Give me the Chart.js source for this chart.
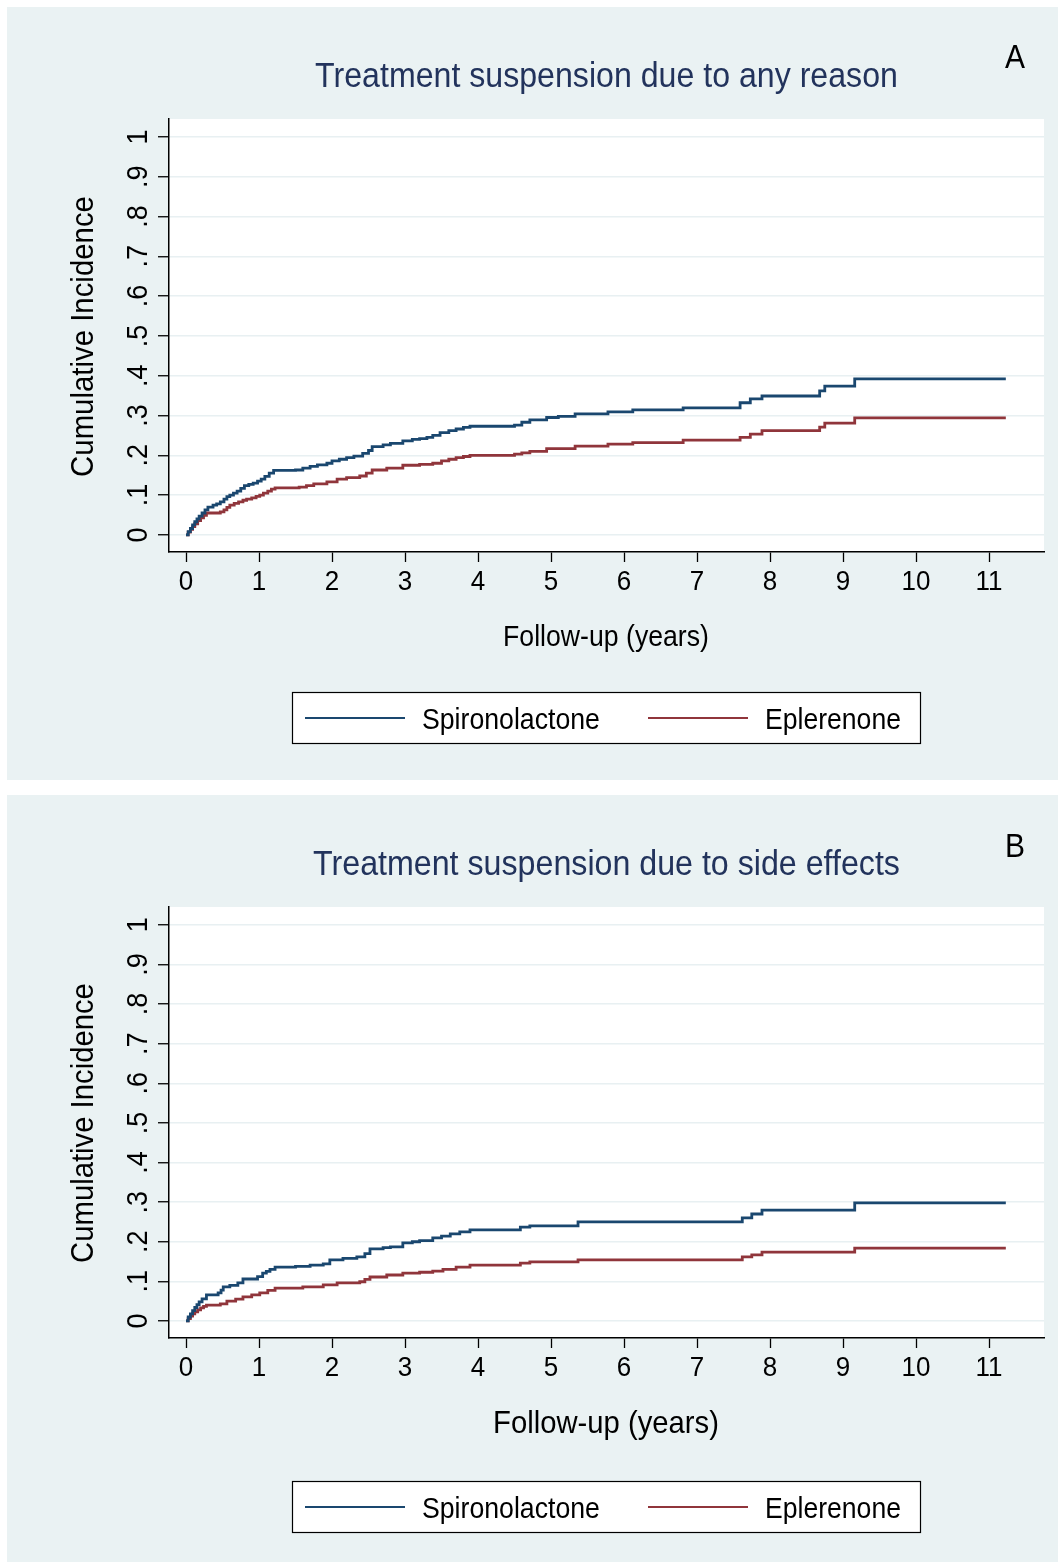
<!DOCTYPE html>
<html>
<head>
<meta charset="utf-8">
<script src="https://cdn.jsdelivr.net/npm/chart.js@4.4.1/dist/chart.umd.min.js"></script>
<style>
  html, body { margin: 0; padding: 0; background: #ffffff; }
  body { width: 1058px; height: 1562px; position: relative; overflow: hidden; }
  canvas { position: absolute; }
</style>
</head>
<body>
<canvas id="panelA" width="1051" height="773" style="left:7px;top:7px;"></canvas>
<canvas id="panelB" width="1051" height="767" style="left:7px;top:795px;"></canvas>
<script>
// ---------- DATA ----------
const seriesNames = ["Spironolactone", "Eplerenone"];
const xTickValues = [0, 1, 2, 3, 4, 5, 6, 7, 8, 9, 10, 11];
const xTickLabels = ["0", "1", "2", "3", "4", "5", "6", "7", "8", "9", "10", "11"];
const yTickValues = [0, 0.1, 0.2, 0.3, 0.4, 0.5, 0.6, 0.7, 0.8, 0.9, 1];
const yTickLabels = ["0", ".1", ".2", ".3", ".4", ".5", ".6", ".7", ".8", ".9", "1"];

// Panel A: any reason
const spiroA_t = [0, 0.03, 0.06, 0.09, 0.12, 0.15, 0.18, 0.22, 0.26, 0.3, 0.37, 0.42, 0.47, 0.52, 0.56, 0.6, 0.65, 0.7, 0.75, 0.8, 0.86, 0.92, 0.98, 1.03, 1.08, 1.14, 1.2, 1.5, 1.6, 1.7, 1.8, 1.93, 2.0, 2.1, 2.2, 2.3, 2.42, 2.5, 2.55, 2.7, 2.8, 2.97, 3.1, 3.2, 3.3, 3.38, 3.48, 3.6, 3.7, 3.8, 3.89, 4.5, 4.6, 4.71, 4.94, 5.1, 5.33, 5.78, 6.12, 6.81, 7.59, 7.73, 7.89, 8.68, 8.75, 9.16, 11.23];
const spiroA_v = [0, 0.008, 0.016, 0.025, 0.033, 0.04, 0.047, 0.055, 0.063, 0.07, 0.075, 0.078, 0.083, 0.09, 0.096, 0.1, 0.105, 0.11, 0.117, 0.124, 0.127, 0.13, 0.135, 0.14, 0.147, 0.155, 0.162, 0.163, 0.168, 0.172, 0.176, 0.18, 0.186, 0.19, 0.194, 0.198, 0.205, 0.212, 0.222, 0.226, 0.23, 0.236, 0.24, 0.242, 0.245, 0.25, 0.257, 0.262, 0.266, 0.27, 0.273, 0.276, 0.283, 0.289, 0.295, 0.298, 0.304, 0.309, 0.314, 0.319, 0.332, 0.342, 0.349, 0.362, 0.374, 0.392, 0.392];
const epleA_t = [0, 0.03, 0.06, 0.09, 0.12, 0.16, 0.2, 0.24, 0.28, 0.47, 0.52, 0.56, 0.6, 0.66, 0.72, 0.78, 0.83, 0.9, 0.96, 1.01, 1.06, 1.12, 1.17, 1.22, 1.55, 1.65, 1.75, 1.93, 2.07, 2.2, 2.38, 2.47, 2.55, 2.75, 2.97, 3.2, 3.38, 3.5, 3.6, 3.7, 3.8, 3.89, 4.5, 4.6, 4.71, 4.94, 5.33, 5.78, 6.12, 6.81, 7.59, 7.73, 7.89, 8.68, 8.75, 9.16, 11.23];
const epleA_v = [0, 0.007, 0.014, 0.021, 0.028, 0.036, 0.043, 0.049, 0.055, 0.058, 0.063, 0.069, 0.075, 0.079, 0.083, 0.087, 0.09, 0.093, 0.097, 0.1, 0.105, 0.11, 0.115, 0.118, 0.12, 0.124, 0.128, 0.133, 0.14, 0.144, 0.148, 0.155, 0.163, 0.168, 0.175, 0.177, 0.18, 0.186, 0.19, 0.194, 0.197, 0.2, 0.203, 0.206, 0.21, 0.217, 0.223, 0.228, 0.232, 0.238, 0.245, 0.253, 0.262, 0.271, 0.281, 0.294, 0.294];

// Panel B: side effects
const spiroB_t = [0, 0.03, 0.06, 0.09, 0.12, 0.15, 0.18, 0.22, 0.28, 0.44, 0.48, 0.51, 0.6, 0.71, 0.78, 0.92, 0.98, 1.05, 1.1, 1.15, 1.22, 1.5, 1.7, 1.88, 1.97, 2.15, 2.34, 2.45, 2.52, 2.7, 2.8, 2.97, 3.1, 3.2, 3.38, 3.5, 3.62, 3.75, 3.89, 4.58, 4.71, 5.37, 7.62, 7.75, 7.89, 9.16, 11.23];
const spiroB_v = [0, 0.01, 0.018, 0.026, 0.034, 0.041, 0.048, 0.056, 0.066, 0.071, 0.078, 0.086, 0.09, 0.096, 0.106, 0.106, 0.112, 0.121, 0.125, 0.13, 0.136, 0.138, 0.141, 0.144, 0.154, 0.158, 0.162, 0.17, 0.182, 0.185, 0.187, 0.197, 0.2, 0.203, 0.21, 0.214, 0.22, 0.225, 0.23, 0.237, 0.24, 0.25, 0.26, 0.27, 0.28, 0.298, 0.298];
const epleB_t = [0, 0.03, 0.06, 0.09, 0.12, 0.16, 0.2, 0.24, 0.28, 0.47, 0.56, 0.68, 0.78, 0.9, 1.01, 1.12, 1.22, 1.6, 1.88, 2.07, 2.38, 2.45, 2.52, 2.75, 2.97, 3.2, 3.38, 3.52, 3.7, 3.89, 4.58, 4.71, 5.37, 7.62, 7.75, 7.89, 9.16, 11.23];
const epleB_v = [0, 0.006, 0.012, 0.018, 0.023, 0.028, 0.033, 0.037, 0.04, 0.043, 0.05, 0.055, 0.061, 0.066, 0.071, 0.077, 0.083, 0.086, 0.091, 0.096, 0.099, 0.105, 0.111, 0.116, 0.121, 0.123, 0.126, 0.13, 0.136, 0.141, 0.146, 0.149, 0.154, 0.162, 0.167, 0.174, 0.184, 0.184];

const titleA = "Treatment suspension due to any reason";
const titleB = "Treatment suspension due to side effects";
const yTitle = "Cumulative Incidence";
const xTitle = "Follow-up (years)";

// ---------- STYLE ----------
const FONT = "'Liberation Sans', Arial, Helvetica, sans-serif";
const BG = "#eaf2f3";
const COL_SPIRO = "#1a476f";
const COL_EPLE = "#90353b";
const TITLE_COL = "#22335c";
const VSTRETCH = 1.08;

function pts(t, v) { return t.map((x, i) => ({ x: x, y: v[i] })); }

function fitFont(ctx, text, width) {
  ctx.font = "100px " + FONT;
  const m = ctx.measureText(text).width;
  return 100 * width / m;
}

// draw text with slight vertical stretch (anchor at baseline)
function txt(ctx, s, x, y) {
  ctx.save();
  ctx.translate(x, y);
  ctx.scale(1, VSTRETCH);
  ctx.fillText(s, 0, 0);
  ctx.restore();
}

function makeDecor(L) {
  return {
    id: 'decor',
    beforeDraw(chart) {
      const { ctx, chartArea: a } = chart;
      ctx.save();
      ctx.fillStyle = BG;
      ctx.fillRect(0, 0, chart.width, chart.height);
      ctx.fillStyle = "#ffffff";
      ctx.fillRect(a.left, a.top, a.right - a.left, a.bottom - a.top);
      ctx.restore();
    },
    afterDraw(chart) {
      const ctx = chart.ctx;
      const xs = chart.scales.x, ys = chart.scales.y;
      const ox = L.ox, oy = L.oy;
      ctx.save();
      ctx.textBaseline = "alphabetic";
      // Title
      let s = fitFont(ctx, L.title, L.titleW);
      ctx.font = s + "px " + FONT;
      ctx.fillStyle = TITLE_COL;
      ctx.textAlign = "center";
      txt(ctx, L.title, 606.5 - ox, L.titleBase - oy);
      // Letter
      ctx.font = "30px " + FONT;
      ctx.fillStyle = "#000";
      txt(ctx, L.letter, 1015 - ox, L.letterBase - oy);
      // Y title (rotated)
      s = fitFont(ctx, yTitle, L.yTitleW);
      ctx.font = s + "px " + FONT;
      ctx.save();
      ctx.translate(93 - ox, L.yTitleC - oy);
      ctx.rotate(-Math.PI / 2);
      ctx.textAlign = "center";
      txt(ctx, yTitle, 0, 0);
      ctx.restore();
      // Y tick labels (rotated)
      ctx.font = "27px " + FONT;
      ys.ticks.forEach((tk) => {
        const idx = yTickValues.findIndex(v => Math.abs(v - tk.value) < 1e-9);
        if (idx < 0) return;
        const py = ys.getPixelForValue(tk.value);
        ctx.save();
        ctx.translate(147 - ox, py);
        ctx.rotate(-Math.PI / 2);
        ctx.textAlign = "center";
        txt(ctx, yTickLabels[idx], 0, 0);
        ctx.restore();
      });
      // X tick labels
      ctx.font = "26px " + FONT;
      ctx.textAlign = "center";
      xs.ticks.forEach((tk) => {
        const idx = xTickValues.findIndex(v => Math.abs(v - tk.value) < 1e-9);
        if (idx < 0) return;
        txt(ctx, xTickLabels[idx], xs.getPixelForValue(tk.value), L.xTickBase - oy);
      });
      // X title
      s = fitFont(ctx, xTitle, L.xTitleW);
      ctx.font = s + "px " + FONT;
      txt(ctx, xTitle, 606 - ox, L.xTitleBase - oy);
      // Legend
      const bx = 292 - ox, by = L.legTop - oy, bw = 628, bh = 51;
      ctx.fillStyle = "#fff";
      ctx.fillRect(bx, by, bw, bh);
      ctx.strokeStyle = "#000";
      ctx.lineWidth = 1.2;
      ctx.strokeRect(bx + 0.5, by + 0.5, bw, bh);
      const ds = chart.data.datasets;
      const items = [
        { x1: 305, x2: 405, tx: 422, tw: 178 },
        { x1: 648, x2: 748, tx: 765, tw: 136 }
      ];
      items.forEach((it, i) => {
        ctx.strokeStyle = ds[i].borderColor;
        ctx.lineWidth = 2;
        ctx.beginPath();
        ctx.moveTo(it.x1 - ox, L.legLine - oy);
        ctx.lineTo(it.x2 - ox, L.legLine - oy);
        ctx.stroke();
        const fs = fitFont(ctx, ds[i].label, it.tw);
        ctx.font = fs + "px " + FONT;
        ctx.fillStyle = "#000";
        ctx.textAlign = "left";
        txt(ctx, ds[i].label, it.tx - ox, L.legBase - oy);
      });
      ctx.restore();
    }
  };
}

function makeChart(id, spT, spV, epT, epV, L) {
  const xScaleH = L.h - L.plotBottom;
  return new Chart(document.getElementById(id), {
    type: 'line',
    data: {
      datasets: [
        { label: seriesNames[0], data: pts(spT, spV), borderColor: COL_SPIRO, borderWidth: 2.8, pointRadius: 0, stepped: 'before', fill: false },
        { label: seriesNames[1], data: pts(epT, epV), borderColor: COL_EPLE, borderWidth: 2.8, pointRadius: 0, stepped: 'before', fill: false }
      ]
    },
    options: {
      responsive: false,
      animation: false,
      devicePixelRatio: 1,
      layout: { padding: { top: L.plotTop, right: 14, bottom: 0, left: 0 } },
      plugins: { legend: { display: false }, title: { display: false }, tooltip: { enabled: false } },
      scales: {
        x: {
          type: 'linear',
          min: -0.233, max: 11.753,
          afterBuildTicks: (sc) => { sc.ticks = xTickValues.map(v => ({ value: v })); },
          afterFit: (sc) => { sc.height = xScaleH; },
          ticks: { display: false },
          grid: { display: true, drawOnChartArea: false, drawTicks: true, tickLength: 10, tickColor: '#000', tickWidth: 1.3 },
          border: { display: true, color: '#000', width: 1.5 }
        },
        y: {
          type: 'linear',
          min: -0.043, max: 1.045,
          afterBuildTicks: (sc) => { sc.ticks = yTickValues.map(v => ({ value: v })); },
          afterFit: (sc) => { sc.width = 162; },
          ticks: { display: false },
          grid: { display: true, drawOnChartArea: true, color: '#e8f0f2', lineWidth: 1.5, drawTicks: true, tickLength: 11, tickColor: '#000', tickWidth: 1.3 },
          border: { display: true, color: '#000', width: 1.5 }
        }
      }
    },
    plugins: [makeDecor(L)]
  });
}

makeChart('panelA', spiroA_t, spiroA_v, epleA_t, epleA_v, {
  ox: 7, oy: 7, h: 773, plotTop: 112, plotBottom: 545,
  title: titleA, titleW: 583, titleBase: 87, letter: "A", letterBase: 68,
  yTitleW: 281, yTitleC: 336.5, xTickBase: 590, xTitleW: 206, xTitleBase: 646,
  legTop: 692, legLine: 718, legBase: 729
});
makeChart('panelB', spiroB_t, spiroB_v, epleB_t, epleB_v, {
  ox: 7, oy: 795, h: 767, plotTop: 112, plotBottom: 543,
  title: titleB, titleW: 587, titleBase: 875, letter: "B", letterBase: 857,
  yTitleW: 280, yTitleC: 1123, xTickBase: 1376, xTitleW: 226, xTitleBase: 1433,
  legTop: 1481, legLine: 1507, legBase: 1518
});
</script>
</body>
</html>
